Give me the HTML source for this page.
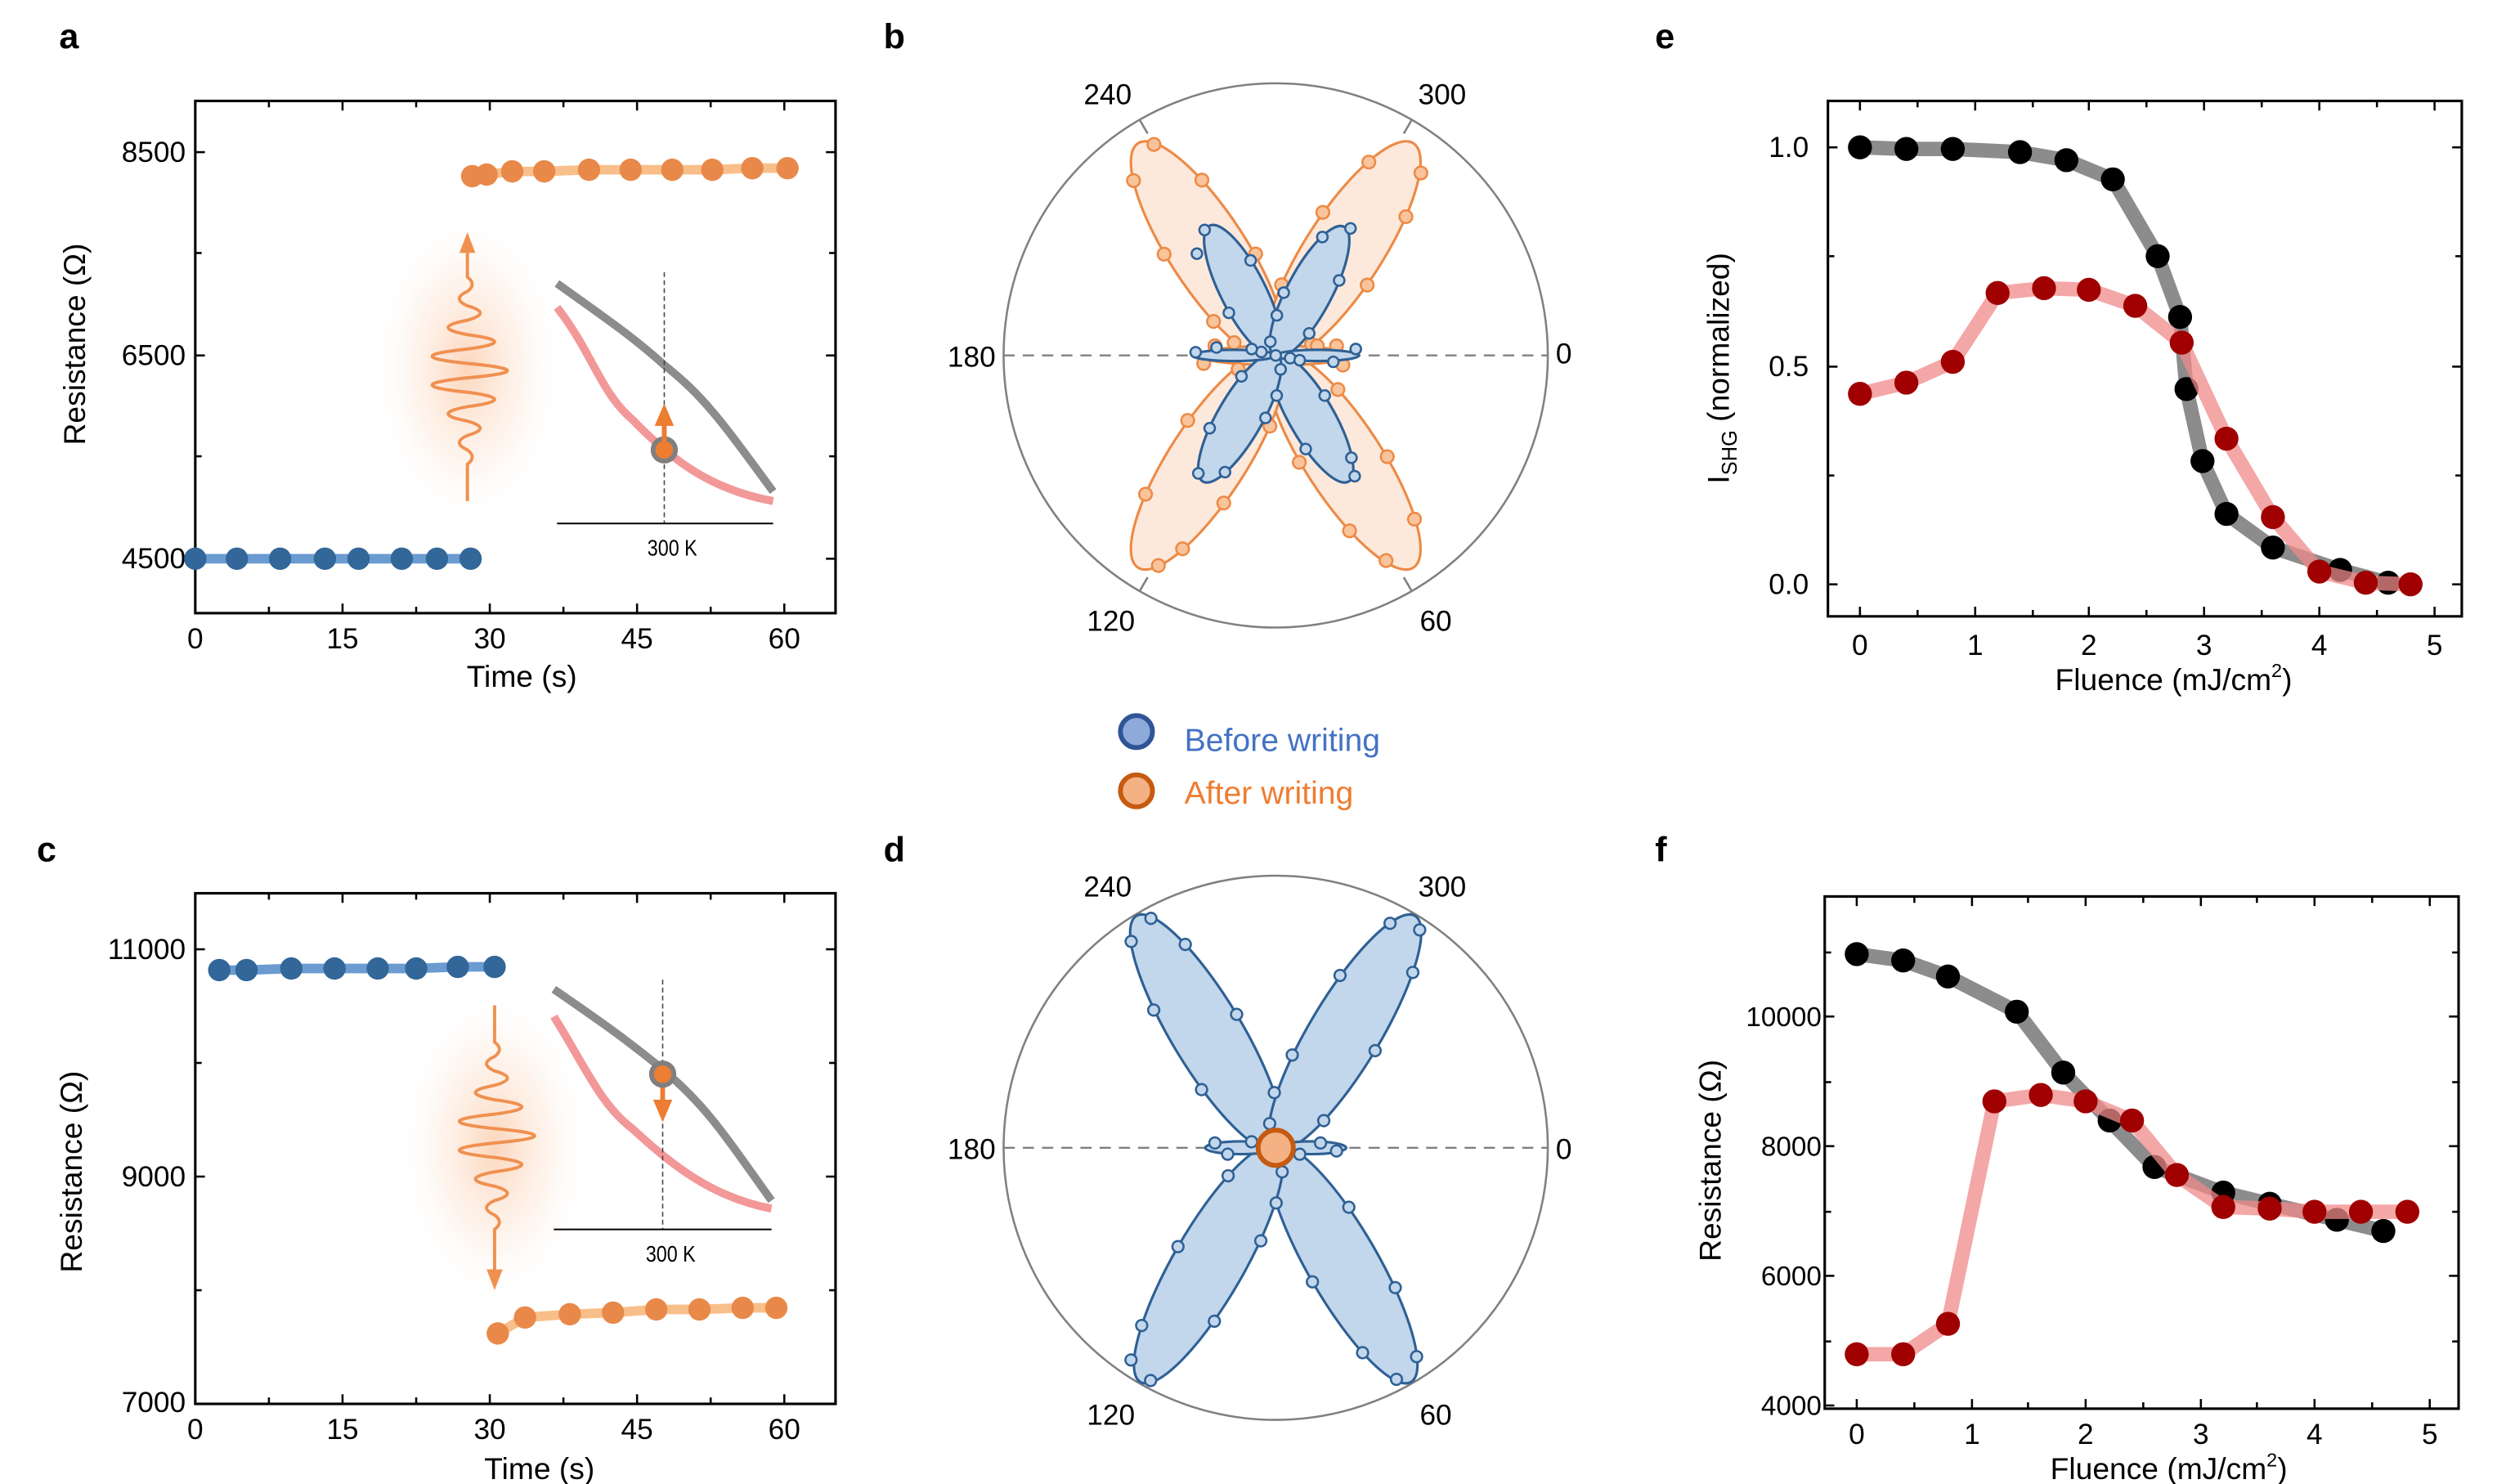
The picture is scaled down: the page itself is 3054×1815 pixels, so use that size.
<!DOCTYPE html>
<html><head><meta charset="utf-8"><style>
html,body{margin:0;padding:0;background:#fff}
svg{display:block}
text{font-family:"Liberation Sans",Arial,sans-serif;fill:#000}
</style></head><body>
<svg width="3054" height="1815" viewBox="0 0 1560 927" xmlns="http://www.w3.org/2000/svg">
<defs>
<radialGradient id="glow" cx="50%" cy="50%" r="50%">
<stop offset="0" stop-color="#f7a36a" stop-opacity="0.45"/>
<stop offset="0.6" stop-color="#fbd0b0" stop-opacity="0.2"/>
<stop offset="1" stop-color="#fff" stop-opacity="0"/>
</radialGradient>
</defs>
<rect width="1560" height="927" fill="#fff"/>
<!-- panel letters -->
<g font-weight="bold" font-size="22">
<text x="37" y="30">a</text><text x="552" y="30">b</text><text x="1034" y="30">e</text>
<text x="23" y="538">c</text><text x="552" y="538">d</text><text x="1034" y="538">f</text>
</g>

<!-- ================= PANEL A ================= -->
<g>
<rect x="122" y="63" width="400" height="320" fill="none" stroke="#000" stroke-width="1.6"/>
<g stroke="#000" stroke-width="1.3">
<line x1="122" y1="95" x2="128" y2="95"/><line x1="122" y1="222" x2="128" y2="222"/><line x1="122" y1="349" x2="128" y2="349"/>
<line x1="122" y1="158" x2="126" y2="158"/><line x1="122" y1="285" x2="126" y2="285"/>
<line x1="522" y1="95" x2="516" y2="95"/><line x1="522" y1="222" x2="516" y2="222"/><line x1="522" y1="349" x2="516" y2="349"/>
<line x1="522" y1="158" x2="518" y2="158"/><line x1="522" y1="285" x2="518" y2="285"/>
<line x1="214" y1="383" x2="214" y2="377"/><line x1="306" y1="383" x2="306" y2="377"/><line x1="398" y1="383" x2="398" y2="377"/><line x1="490" y1="383" x2="490" y2="377"/>
<line x1="168" y1="383" x2="168" y2="379"/><line x1="260" y1="383" x2="260" y2="379"/><line x1="352" y1="383" x2="352" y2="379"/><line x1="444" y1="383" x2="444" y2="379"/>
<line x1="214" y1="63" x2="214" y2="69"/><line x1="306" y1="63" x2="306" y2="69"/><line x1="398" y1="63" x2="398" y2="69"/><line x1="490" y1="63" x2="490" y2="69"/>
<line x1="168" y1="63" x2="168" y2="67"/><line x1="260" y1="63" x2="260" y2="67"/><line x1="352" y1="63" x2="352" y2="67"/><line x1="444" y1="63" x2="444" y2="67"/>
</g>
<g font-size="18" text-anchor="end"><text x="116" y="101">8500</text><text x="116" y="228">6500</text><text x="116" y="355">4500</text></g>
<g font-size="18" text-anchor="middle"><text x="122" y="405">0</text><text x="214" y="405">15</text><text x="306" y="405">30</text><text x="398" y="405">45</text><text x="490" y="405">60</text></g>
<text x="326" y="429" font-size="19" text-anchor="middle">Time (s)</text>
<text transform="translate(53,215) rotate(-90)" font-size="19" text-anchor="middle">Resistance (Ω)</text>
<polyline points="122,349 294,349" stroke="#6a9bd1" stroke-width="6" fill="none"/>
<g fill="#336699"><circle cx="122" cy="349" r="7"/><circle cx="148" cy="349" r="7"/><circle cx="175" cy="349" r="7"/><circle cx="203" cy="349" r="7"/><circle cx="224" cy="349" r="7"/><circle cx="251" cy="349" r="7"/><circle cx="273" cy="349" r="7"/><circle cx="294" cy="349" r="7"/></g>
<polyline points="295,110 304,109 320,107 340,107 368,106 394,106 420,106 445,106 470,105 492,105" stroke="#f9bf8a" stroke-width="6" fill="none"/>
<g fill="#e8894a"><circle cx="295" cy="110" r="7"/><circle cx="304" cy="109" r="7"/><circle cx="320" cy="107" r="7"/><circle cx="340" cy="107" r="7"/><circle cx="368" cy="106" r="7"/><circle cx="394" cy="106" r="7"/><circle cx="420" cy="106" r="7"/><circle cx="445" cy="106" r="7"/><circle cx="470" cy="105" r="7"/><circle cx="492" cy="105" r="7"/></g>
<ellipse cx="292" cy="230" rx="60" ry="100" fill="url(#glow)"/>
<path d="M292,313 L292,290 Q298,285.5 292,281 Q282,276.5 292,272 Q308,267.5 292,263 Q268,258.5 292,254 Q326,249.5 292,245 Q248,240.5 292,236 Q342,231.5 292,227 Q248,222.5 292,218 Q326,213.5 292,209 Q268,204.5 292,200 Q308,195.5 292,191 Q282,186.5 292,182 Q298,177.5 292,173 L292,158" stroke="#f09050" stroke-width="2" fill="none"/>
<polygon points="292,145 287,158 297,158" fill="#f09050"/>
<!-- inset -->
<path d="M348,177 C380,200 395,210 415,228 C440,248 450,262 483,307" stroke="#8c8c8c" stroke-width="5" fill="none"/>
<path d="M348,192 C370,220 375,245 395,262 C420,288 445,306 483,313" stroke="#f29898" stroke-width="5" fill="none"/>
<line x1="415" y1="170" x2="415" y2="327" stroke="#444" stroke-width="0.8" stroke-dasharray="3,2"/>
<line x1="348" y1="327" x2="483" y2="327" stroke="#000" stroke-width="1"/>
<text x="420" y="347" font-size="14" text-anchor="middle" transform="translate(420,347) scale(0.85,1) translate(-420,-347)">300 K</text>
<circle cx="415" cy="281" r="7" fill="#ed7d31" stroke="#7f7f7f" stroke-width="3"/>
<line x1="415" y1="281" x2="415" y2="262" stroke="#ed7d31" stroke-width="3"/>
<polygon points="415,252 409,266 421,266" fill="#ed7d31"/>
</g>

<!-- ================= PANEL C ================= -->
<g>
<rect x="122" y="558" width="400" height="319" fill="none" stroke="#000" stroke-width="1.6"/>
<g stroke="#000" stroke-width="1.3">
<line x1="122" y1="593" x2="128" y2="593"/><line x1="122" y1="735" x2="128" y2="735"/>
<line x1="122" y1="664" x2="126" y2="664"/><line x1="122" y1="806" x2="126" y2="806"/>
<line x1="522" y1="593" x2="516" y2="593"/><line x1="522" y1="735" x2="516" y2="735"/>
<line x1="522" y1="664" x2="518" y2="664"/><line x1="522" y1="806" x2="518" y2="806"/>
<line x1="214" y1="877" x2="214" y2="871"/><line x1="306" y1="877" x2="306" y2="871"/><line x1="398" y1="877" x2="398" y2="871"/><line x1="490" y1="877" x2="490" y2="871"/>
<line x1="168" y1="877" x2="168" y2="873"/><line x1="260" y1="877" x2="260" y2="873"/><line x1="352" y1="877" x2="352" y2="873"/><line x1="444" y1="877" x2="444" y2="873"/>
<line x1="214" y1="558" x2="214" y2="564"/><line x1="306" y1="558" x2="306" y2="564"/><line x1="398" y1="558" x2="398" y2="564"/><line x1="490" y1="558" x2="490" y2="564"/>
<line x1="168" y1="558" x2="168" y2="562"/><line x1="260" y1="558" x2="260" y2="562"/><line x1="352" y1="558" x2="352" y2="562"/><line x1="444" y1="558" x2="444" y2="562"/>
</g>
<g font-size="18" text-anchor="end"><text x="116" y="599">11000</text><text x="116" y="741">9000</text><text x="116" y="882">7000</text></g>
<g font-size="18" text-anchor="middle"><text x="122" y="899">0</text><text x="214" y="899">15</text><text x="306" y="899">30</text><text x="398" y="899">45</text><text x="490" y="899">60</text></g>
<text x="337" y="924" font-size="19" text-anchor="middle">Time (s)</text>
<text transform="translate(51,732) rotate(-90)" font-size="19" text-anchor="middle">Resistance (Ω)</text>
<polyline points="137,606 154,606 182,605 209,605 236,605 260,605 286,604 309,604" stroke="#6a9bd1" stroke-width="6" fill="none"/>
<g fill="#336699"><circle cx="137" cy="606" r="7"/><circle cx="154" cy="606" r="7"/><circle cx="182" cy="605" r="7"/><circle cx="209" cy="605" r="7"/><circle cx="236" cy="605" r="7"/><circle cx="260" cy="605" r="7"/><circle cx="286" cy="604" r="7"/><circle cx="309" cy="604" r="7"/></g>
<polyline points="311,833 328,823 356,821 383,820 410,818 437,818 464,817 485,817" stroke="#f9bf8a" stroke-width="6" fill="none"/>
<g fill="#e8894a"><circle cx="311" cy="833" r="7"/><circle cx="328" cy="823" r="7"/><circle cx="356" cy="821" r="7"/><circle cx="383" cy="820" r="7"/><circle cx="410" cy="818" r="7"/><circle cx="437" cy="818" r="7"/><circle cx="464" cy="817" r="7"/><circle cx="485" cy="817" r="7"/></g>
<ellipse cx="309" cy="716" rx="60" ry="100" fill="url(#glow)"/>
<path d="M309,628 L309,651 Q315,655.5 309,660 Q299,664.5 309,669 Q325,673.5 309,678 Q285,682.5 309,687 Q343,691.5 309,696 Q265,700.5 309,705 Q359,709.5 309,714 Q265,718.5 309,723 Q343,727.5 309,732 Q285,736.5 309,741 Q325,745.5 309,750 Q299,754.5 309,759 Q315,763.5 309,768 L309,793" stroke="#f09050" stroke-width="2" fill="none"/>
<polygon points="309,806 304,793 314,793" fill="#f09050"/>
<path d="M346,618 C378,640 392,650 414,668 C440,690 450,705 482,750" stroke="#8c8c8c" stroke-width="5" fill="none"/>
<path d="M346,635 C365,665 375,690 395,705 C420,728 445,748 482,755" stroke="#f29898" stroke-width="5" fill="none"/>
<line x1="414" y1="612" x2="414" y2="768" stroke="#444" stroke-width="0.8" stroke-dasharray="3,2"/>
<line x1="346" y1="768" x2="482" y2="768" stroke="#000" stroke-width="1"/>
<text x="419" y="788" font-size="14" text-anchor="middle" transform="translate(419,788) scale(0.85,1) translate(-419,-788)">300 K</text>
<line x1="414" y1="671" x2="414" y2="690" stroke="#ed7d31" stroke-width="3"/>
<polygon points="414,701 408,687 420,687" fill="#ed7d31"/>
<circle cx="414" cy="671" r="7" fill="#ed7d31" stroke="#7f7f7f" stroke-width="3"/>
</g>

<!-- ================= PANEL B ================= -->
<g transform="translate(797,222)">
<circle r="170" fill="none" stroke="#808080" stroke-width="1.3"/>
<line x1="-170" y1="0" x2="170" y2="0" stroke="#808080" stroke-width="1.2" stroke-dasharray="7,5"/>
<g stroke="#808080" stroke-width="1.3">
<line x1="85" y1="147.2" x2="80" y2="138.6" transform="rotate(0)"/>
<line x1="-85" y1="147.2" x2="-80" y2="138.6"/>
<line x1="-85" y1="-147.2" x2="-80" y2="-138.6"/>
<line x1="85" y1="-147.2" x2="80" y2="-138.6"/>
</g>
<g font-size="18">
<text x="-105" y="-157" text-anchor="middle">240</text><text x="104" y="-157" text-anchor="middle">300</text>
<text x="-190" y="7" text-anchor="middle">180</text><text x="180" y="5" text-anchor="middle">0</text>
<text x="-103" y="172" text-anchor="middle">120</text><text x="100" y="172" text-anchor="middle">60</text>
</g>
<!-- orange lobes -->
<g fill="#fce9dc" stroke="#ed8a45" stroke-width="1.6">
<g transform="rotate(57)"><ellipse cx="78" cy="0" rx="80" ry="24"/></g>
<g transform="rotate(123)"><ellipse cx="78" cy="0" rx="80" ry="24"/></g>
<g transform="rotate(237)"><ellipse cx="78" cy="0" rx="80" ry="24"/></g>
<g transform="rotate(303)"><ellipse cx="78" cy="0" rx="80" ry="24"/></g>
<ellipse cx="0" cy="0" rx="48" ry="6" fill="#fce9dc"/>
</g>
<g fill="#f9c49c" stroke="#ed8a45" stroke-width="1.3">
<g transform="rotate(57)"><circle cx="145" cy="12" r="4"/><circle cx="117" cy="21" r="4"/><circle cx="64" cy="24" r="4"/><circle cx="18" cy="15" r="4"/><circle cx="133" cy="-17" r="4"/><circle cx="91" cy="-24" r="4"/><circle cx="39" cy="-21" r="4"/></g>
<g transform="rotate(123)"><circle cx="150" cy="-10" r="4"/><circle cx="117" cy="21" r="4"/><circle cx="64" cy="24" r="4"/><circle cx="20" cy="15" r="4"/><circle cx="133" cy="-17" r="4"/><circle cx="95" cy="-23" r="4"/><circle cx="39" cy="-21" r="4"/></g>
<g transform="rotate(237)"><circle cx="152" cy="8" r="4"/><circle cx="117" cy="21" r="4"/><circle cx="60" cy="24" r="4"/><circle cx="18" cy="15" r="4"/><circle cx="140" cy="-15" r="4"/><circle cx="91" cy="-24" r="4"/><circle cx="39" cy="-21" r="4"/></g>
<g transform="rotate(303)"><circle cx="145" cy="14" r="4"/><circle cx="117" cy="21" r="4"/><circle cx="68" cy="24" r="4"/><circle cx="18" cy="15" r="4"/><circle cx="133" cy="-17" r="4"/><circle cx="91" cy="-24" r="4"/><circle cx="39" cy="-21" r="4"/></g>
<circle cx="-38" cy="-6" r="4"/><circle cx="-45" cy="5" r="4"/><circle cx="38" cy="-6" r="4"/><circle cx="42" cy="6" r="4"/><circle cx="-26" cy="-8" r="4"/><circle cx="26" cy="-6" r="4"/>
</g>
<!-- blue lobes -->
<g fill="#c2d6ec" stroke="#2e6094" stroke-width="1.6">
<g transform="rotate(60)"><ellipse cx="45" cy="0" rx="46" ry="14"/></g>
<g transform="rotate(120)"><ellipse cx="45" cy="0" rx="46" ry="14"/></g>
<g transform="rotate(243)"><ellipse cx="45" cy="0" rx="46" ry="14"/></g>
<g transform="rotate(298)"><ellipse cx="45" cy="0" rx="46" ry="14"/></g>
<ellipse cx="-26" cy="0" rx="26" ry="3.5"/><ellipse cx="26" cy="0" rx="26" ry="3.5"/>
</g>
<g fill="#c2d6ec" stroke="#2e6094" stroke-width="1.3">
<g transform="rotate(60)"><circle cx="90" cy="-5" r="3.3"/><circle cx="60" cy="13" r="3.3"/><circle cx="22" cy="12" r="3.3"/><circle cx="79" cy="-9" r="3.3"/><circle cx="37" cy="-14" r="3.3"/><circle cx="6" cy="-7" r="3.3"/></g>
<g transform="rotate(120)"><circle cx="88" cy="5" r="3.3"/><circle cx="60" cy="13" r="3.3"/><circle cx="22" cy="12" r="3.3"/><circle cx="79" cy="-9" r="3.3"/><circle cx="37" cy="-14" r="3.3"/><circle cx="6" cy="-7" r="3.3"/></g>
<g transform="rotate(243)"><circle cx="90" cy="-4" r="3.3"/><circle cx="60" cy="13" r="3.3"/><circle cx="22" cy="12" r="3.3"/><circle cx="79" cy="-15" r="3.3"/><circle cx="37" cy="-14" r="3.3"/><circle cx="6" cy="-7" r="3.3"/></g>
<g transform="rotate(298)"><circle cx="92" cy="4" r="3.3"/><circle cx="60" cy="13" r="3.3"/><circle cx="22" cy="12" r="3.3"/><circle cx="79" cy="-9" r="3.3"/><circle cx="37" cy="-14" r="3.3"/><circle cx="6" cy="-7" r="3.3"/></g>
<circle cx="-50" cy="-2" r="3.3"/><circle cx="-37" cy="-5" r="3.3"/><circle cx="50" cy="-4" r="3.3"/><circle cx="36" cy="4" r="3.3"/><circle cx="-15" cy="-4" r="3.3"/><circle cx="15" cy="3" r="3.3"/><circle cx="0" cy="0" r="3.3"/>
</g>
</g>

<!-- legend -->
<circle cx="710" cy="457" r="10" fill="#8eaadb" stroke="#2f5597" stroke-width="3"/>
<circle cx="710" cy="494" r="10" fill="#f4b183" stroke="#c55a11" stroke-width="3"/>
<text x="740" y="469" font-size="20" style="fill:#4472c4">Before writing</text>
<text x="740" y="502" font-size="20" style="fill:#ed7d31">After writing</text>

<!-- ================= PANEL D ================= -->
<g transform="translate(797,717)">
<circle r="170" fill="none" stroke="#808080" stroke-width="1.3"/>
<line x1="-170" y1="0" x2="170" y2="0" stroke="#808080" stroke-width="1.2" stroke-dasharray="7,5"/>
<g stroke="#808080" stroke-width="1.3">
<line x1="85" y1="147.2" x2="80" y2="138.6"/><line x1="-85" y1="147.2" x2="-80" y2="138.6"/>
<line x1="-85" y1="-147.2" x2="-80" y2="-138.6"/><line x1="85" y1="-147.2" x2="80" y2="-138.6"/>
</g>
<g font-size="18">
<text x="-105" y="-157" text-anchor="middle">240</text><text x="104" y="-157" text-anchor="middle">300</text>
<text x="-190" y="7" text-anchor="middle">180</text><text x="180" y="7" text-anchor="middle">0</text>
<text x="-103" y="173" text-anchor="middle">120</text><text x="100" y="173" text-anchor="middle">60</text>
</g>
<g fill="#c2d6ec" stroke="#2e6094" stroke-width="1.6">
<g transform="rotate(60)"><ellipse cx="84" cy="0" rx="85" ry="22"/></g>
<g transform="rotate(120)"><ellipse cx="84" cy="0" rx="85" ry="22"/></g>
<g transform="rotate(239)"><ellipse cx="84" cy="0" rx="85" ry="22"/></g>
<g transform="rotate(301)"><ellipse cx="84" cy="0" rx="85" ry="22"/></g>
<ellipse cx="-22" cy="0" rx="22" ry="4"/><ellipse cx="22" cy="0" rx="22" ry="4"/>
</g>
<g fill="#c2d6ec" stroke="#2e6094" stroke-width="1.3">
<g transform="rotate(60)"><circle cx="163" cy="7" r="3.5"/><circle cx="138" cy="17" r="3.5"/><circle cx="84" cy="22" r="3.5"/><circle cx="30" cy="17" r="3.5"/><circle cx="157" cy="-11" r="3.5"/><circle cx="113" cy="-21" r="3.5"/><circle cx="55" cy="-21" r="3.5"/><circle cx="11" cy="-11" r="3.5"/></g>
<g transform="rotate(120)"><circle cx="160" cy="12" r="3.5"/><circle cx="138" cy="17" r="3.5"/><circle cx="84" cy="22" r="3.5"/><circle cx="30" cy="17" r="3.5"/><circle cx="165" cy="-5" r="3.5"/><circle cx="113" cy="-21" r="3.5"/><circle cx="55" cy="-21" r="3.5"/><circle cx="11" cy="-11" r="3.5"/></g>
<g transform="rotate(239)"><circle cx="163" cy="7" r="3.5"/><circle cx="138" cy="17" r="3.5"/><circle cx="84" cy="22" r="3.5"/><circle cx="30" cy="17" r="3.5"/><circle cx="157" cy="-11" r="3.5"/><circle cx="113" cy="-21" r="3.5"/><circle cx="55" cy="-21" r="3.5"/><circle cx="11" cy="-11" r="3.5"/></g>
<g transform="rotate(301)"><circle cx="163" cy="7" r="3.5"/><circle cx="138" cy="17" r="3.5"/><circle cx="84" cy="22" r="3.5"/><circle cx="30" cy="17" r="3.5"/><circle cx="157" cy="-11" r="3.5"/><circle cx="113" cy="-21" r="3.5"/><circle cx="55" cy="-21" r="3.5"/><circle cx="11" cy="-11" r="3.5"/></g>
<circle cx="-38" cy="-3" r="3.5"/><circle cx="-30" cy="4" r="3.5"/><circle cx="38" cy="2" r="3.5"/><circle cx="28" cy="-3" r="3.5"/>
</g>
<circle r="11" fill="#f4b183" stroke="#c55a11" stroke-width="3"/>
</g>

<!-- ================= PANEL E ================= -->
<g>
<rect x="1142" y="63" width="396" height="322" fill="none" stroke="#000" stroke-width="1.6"/>
<g stroke="#000" stroke-width="1.3">
<line x1="1142" y1="92" x2="1148" y2="92"/><line x1="1142" y1="229" x2="1148" y2="229"/><line x1="1142" y1="365" x2="1148" y2="365"/>
<line x1="1142" y1="160" x2="1146" y2="160"/><line x1="1142" y1="297" x2="1146" y2="297"/>
<line x1="1538" y1="92" x2="1532" y2="92"/><line x1="1538" y1="229" x2="1532" y2="229"/><line x1="1538" y1="365" x2="1532" y2="365"/>
<line x1="1538" y1="160" x2="1534" y2="160"/><line x1="1538" y1="297" x2="1534" y2="297"/>
<line x1="1162" y1="385" x2="1162" y2="379"/><line x1="1234" y1="385" x2="1234" y2="379"/><line x1="1305" y1="385" x2="1305" y2="379"/><line x1="1377" y1="385" x2="1377" y2="379"/><line x1="1449" y1="385" x2="1449" y2="379"/><line x1="1521" y1="385" x2="1521" y2="379"/>
<line x1="1198" y1="385" x2="1198" y2="381"/><line x1="1270" y1="385" x2="1270" y2="381"/><line x1="1341" y1="385" x2="1341" y2="381"/><line x1="1413" y1="385" x2="1413" y2="381"/><line x1="1485" y1="385" x2="1485" y2="381"/>
<line x1="1162" y1="63" x2="1162" y2="69"/><line x1="1234" y1="63" x2="1234" y2="69"/><line x1="1305" y1="63" x2="1305" y2="69"/><line x1="1377" y1="63" x2="1377" y2="69"/><line x1="1449" y1="63" x2="1449" y2="69"/><line x1="1521" y1="63" x2="1521" y2="69"/>
<line x1="1198" y1="63" x2="1198" y2="67"/><line x1="1270" y1="63" x2="1270" y2="67"/><line x1="1341" y1="63" x2="1341" y2="67"/><line x1="1413" y1="63" x2="1413" y2="67"/><line x1="1485" y1="63" x2="1485" y2="67"/>
</g>
<g font-size="18" text-anchor="end"><text x="1130" y="98">1.0</text><text x="1130" y="235">0.5</text><text x="1130" y="371">0.0</text></g>
<g font-size="18" text-anchor="middle"><text x="1162" y="409">0</text><text x="1234" y="409">1</text><text x="1305" y="409">2</text><text x="1377" y="409">3</text><text x="1449" y="409">4</text><text x="1521" y="409">5</text></g>
<text x="1358" y="431" font-size="19" text-anchor="middle">Fluence (mJ/cm<tspan font-size="12" dy="-8">2</tspan><tspan dy="8">)</tspan></text>
<text transform="translate(1080,230) rotate(-90)" font-size="19" text-anchor="middle">I<tspan font-size="13" dy="5">SHG</tspan><tspan dy="-5"> (normalized)</tspan></text>
<polyline points="1162,92 1191,93 1220,93 1262,95 1291,100 1320,112 1348,160 1362,198 1366,243 1376,288 1391,321 1420,342 1462,356 1492,364" stroke="#8c8c8c" stroke-width="9" fill="none" stroke-linejoin="round"/>
<g fill="#000"><circle cx="1162" cy="92" r="7.5"/><circle cx="1191" cy="93" r="7.5"/><circle cx="1220" cy="93" r="7.5"/><circle cx="1262" cy="95" r="7.5"/><circle cx="1291" cy="100" r="7.5"/><circle cx="1320" cy="112" r="7.5"/><circle cx="1348" cy="160" r="7.5"/><circle cx="1362" cy="198" r="7.5"/><circle cx="1366" cy="243" r="7.5"/><circle cx="1376" cy="288" r="7.5"/><circle cx="1391" cy="321" r="7.5"/><circle cx="1420" cy="342" r="7.5"/><circle cx="1462" cy="356" r="7.5"/><circle cx="1492" cy="364" r="7.5"/></g>
<polyline points="1162,246 1191,239 1220,226 1248,183 1277,180 1305,181 1334,191 1363,214 1391,274 1420,323 1449,357 1478,364 1506,365" stroke="#f08a8a" stroke-opacity="0.75" stroke-width="9" fill="none" stroke-linejoin="round"/>
<g fill="#a00000"><circle cx="1162" cy="246" r="7.5"/><circle cx="1191" cy="239" r="7.5"/><circle cx="1220" cy="226" r="7.5"/><circle cx="1248" cy="183" r="7.5"/><circle cx="1277" cy="180" r="7.5"/><circle cx="1305" cy="181" r="7.5"/><circle cx="1334" cy="191" r="7.5"/><circle cx="1363" cy="214" r="7.5"/><circle cx="1391" cy="274" r="7.5"/><circle cx="1420" cy="323" r="7.5"/><circle cx="1449" cy="357" r="7.5"/><circle cx="1478" cy="364" r="7.5"/><circle cx="1506" cy="365" r="7.5"/></g>
</g>

<!-- ================= PANEL F ================= -->
<g>
<rect x="1140" y="560" width="396" height="320" fill="none" stroke="#000" stroke-width="1.6"/>
<g stroke="#000" stroke-width="1.3">
<line x1="1140" y1="635" x2="1146" y2="635"/><line x1="1140" y1="716" x2="1146" y2="716"/><line x1="1140" y1="797" x2="1146" y2="797"/><line x1="1140" y1="878" x2="1146" y2="878"/>
<line x1="1140" y1="595" x2="1144" y2="595"/><line x1="1140" y1="676" x2="1144" y2="676"/><line x1="1140" y1="757" x2="1144" y2="757"/><line x1="1140" y1="838" x2="1144" y2="838"/>
<line x1="1536" y1="635" x2="1530" y2="635"/><line x1="1536" y1="716" x2="1530" y2="716"/><line x1="1536" y1="797" x2="1530" y2="797"/>
<line x1="1536" y1="595" x2="1532" y2="595"/><line x1="1536" y1="676" x2="1532" y2="676"/><line x1="1536" y1="757" x2="1532" y2="757"/><line x1="1536" y1="838" x2="1532" y2="838"/>
<line x1="1160" y1="880" x2="1160" y2="874"/><line x1="1232" y1="880" x2="1232" y2="874"/><line x1="1303" y1="880" x2="1303" y2="874"/><line x1="1375" y1="880" x2="1375" y2="874"/><line x1="1446" y1="880" x2="1446" y2="874"/><line x1="1518" y1="880" x2="1518" y2="874"/>
<line x1="1196" y1="880" x2="1196" y2="876"/><line x1="1267" y1="880" x2="1267" y2="876"/><line x1="1339" y1="880" x2="1339" y2="876"/><line x1="1410" y1="880" x2="1410" y2="876"/><line x1="1482" y1="880" x2="1482" y2="876"/>
<line x1="1160" y1="560" x2="1160" y2="566"/><line x1="1232" y1="560" x2="1232" y2="566"/><line x1="1303" y1="560" x2="1303" y2="566"/><line x1="1375" y1="560" x2="1375" y2="566"/><line x1="1446" y1="560" x2="1446" y2="566"/><line x1="1518" y1="560" x2="1518" y2="566"/>
<line x1="1196" y1="560" x2="1196" y2="564"/><line x1="1267" y1="560" x2="1267" y2="564"/><line x1="1339" y1="560" x2="1339" y2="564"/><line x1="1410" y1="560" x2="1410" y2="564"/><line x1="1482" y1="560" x2="1482" y2="564"/>
</g>
<g font-size="17" text-anchor="end"><text x="1138" y="641">10000</text><text x="1138" y="722">8000</text><text x="1138" y="803">6000</text><text x="1138" y="884">4000</text></g>
<g font-size="18" text-anchor="middle"><text x="1160" y="902">0</text><text x="1232" y="902">1</text><text x="1303" y="902">2</text><text x="1375" y="902">3</text><text x="1446" y="902">4</text><text x="1518" y="902">5</text></g>
<text x="1355" y="924" font-size="19" text-anchor="middle">Fluence (mJ/cm<tspan font-size="12" dy="-8">2</tspan><tspan dy="8">)</tspan></text>
<text transform="translate(1075,725) rotate(-90)" font-size="19" text-anchor="middle">Resistance (Ω)</text>
<polyline points="1160,596 1189,600 1217,610 1260,632 1289,670 1318,700 1346,729 1389,745 1418,752 1460,762 1489,769" stroke="#8c8c8c" stroke-width="9" fill="none" stroke-linejoin="round"/>
<g fill="#000"><circle cx="1160" cy="596" r="7.5"/><circle cx="1189" cy="600" r="7.5"/><circle cx="1217" cy="610" r="7.5"/><circle cx="1260" cy="632" r="7.5"/><circle cx="1289" cy="670" r="7.5"/><circle cx="1318" cy="700" r="7.5"/><circle cx="1346" cy="729" r="7.5"/><circle cx="1389" cy="745" r="7.5"/><circle cx="1418" cy="752" r="7.5"/><circle cx="1460" cy="762" r="7.5"/><circle cx="1489" cy="769" r="7.5"/></g>
<polyline points="1160,846 1189,846 1217,827 1246,688 1275,684 1303,688 1332,700 1360,734 1389,754 1418,755 1446,757 1475,757 1504,757" stroke="#f08a8a" stroke-opacity="0.75" stroke-width="9" fill="none" stroke-linejoin="round"/>
<g fill="#a00000"><circle cx="1160" cy="846" r="7.5"/><circle cx="1189" cy="846" r="7.5"/><circle cx="1217" cy="827" r="7.5"/><circle cx="1246" cy="688" r="7.5"/><circle cx="1275" cy="684" r="7.5"/><circle cx="1303" cy="688" r="7.5"/><circle cx="1332" cy="700" r="7.5"/><circle cx="1360" cy="734" r="7.5"/><circle cx="1389" cy="754" r="7.5"/><circle cx="1418" cy="755" r="7.5"/><circle cx="1446" cy="757" r="7.5"/><circle cx="1475" cy="757" r="7.5"/><circle cx="1504" cy="757" r="7.5"/></g>
</g>
</svg>
</body></html>
